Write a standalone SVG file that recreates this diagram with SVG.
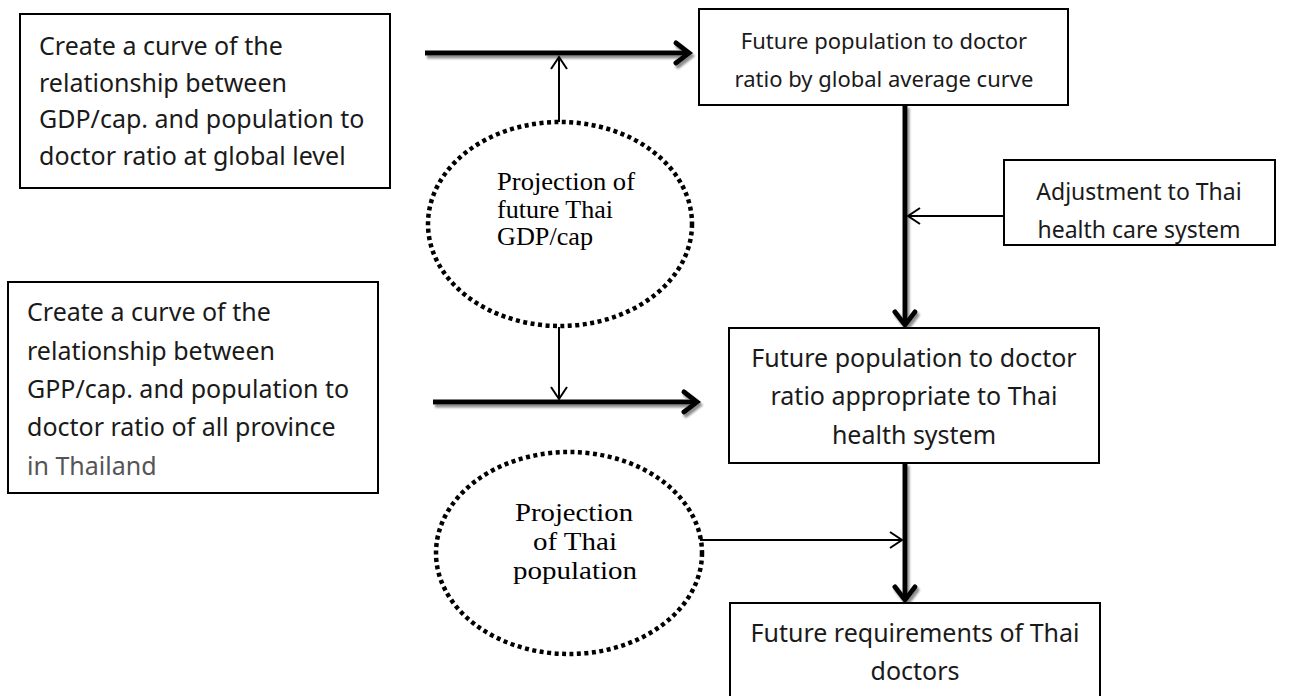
<svg xmlns="http://www.w3.org/2000/svg" width="1295" height="696" viewBox="0 0 1295 696">
  <style>
    .box { fill: #ffffff; stroke: #000000; stroke-width: 2; }
    .lbl { font-family: "Noto Sans", "Open Sans", sans-serif; font-size: 25px; fill: #1a1a1a; }
    .sm { font-size: 22px; }
    .md { font-size: 23px; }
    .mid { text-anchor: middle; }
    .oval { fill: none; stroke: #000000; stroke-width: 4.5; stroke-dasharray: 4 3.5; }
    .ser { font-family: "Liberation Serif", "Times New Roman", serif; font-size: 25px; fill: #000000; }
    .thick { fill: none; stroke: #000000; stroke-width: 5; }
    .thin { fill: none; stroke: #000000; stroke-width: 2; }
  </style>
  <defs>
    <filter id="shade" x="-10%" y="-50%" width="120%" height="200%">
      <feDropShadow dx="2" dy="3" stdDeviation="0.8" flood-color="#808080" flood-opacity="0.9"/>
    </filter>
    <marker id="headThick" markerUnits="userSpaceOnUse" markerWidth="40" markerHeight="40" refX="0" refY="0" viewBox="-20 -20 40 40" orient="auto" overflow="visible">
      <path d="M -13 -10 L 0 0 L -13 10" fill="none" stroke="#000000" stroke-width="5" stroke-linecap="round" stroke-linejoin="miter"/>
    </marker>
    <marker id="headThin" markerUnits="userSpaceOnUse" markerWidth="40" markerHeight="40" refX="0" refY="0" viewBox="-20 -20 40 40" orient="auto" overflow="visible">
      <path d="M -12 -8 L 0 0 L -12 8" fill="none" stroke="#000000" stroke-width="2"/>
    </marker>
  </defs>

  <rect width="1295" height="696" fill="#ffffff"/>

  <!-- connectors -->
  <g id="connectors">
    <g filter="url(#shade)">
      <line class="thick" x1="425" y1="53" x2="689" y2="53" marker-end="url(#headThick)"/>
      <line class="thick" x1="433" y1="402" x2="697" y2="402" marker-end="url(#headThick)"/>
      <line class="thick" x1="905" y1="105" x2="905" y2="325" marker-end="url(#headThick)"/>
      <line class="thick" x1="905" y1="463" x2="905" y2="600" marker-end="url(#headThick)"/>
    </g>
    <line class="thin" x1="559" y1="122" x2="559" y2="57" marker-end="url(#headThin)"/>
    <line class="thin" x1="559" y1="327" x2="559" y2="399" marker-end="url(#headThin)"/>
    <line class="thin" x1="1003" y1="216" x2="908" y2="216" marker-end="url(#headThin)"/>
    <line class="thin" x1="700" y1="540" x2="902" y2="540" marker-end="url(#headThin)"/>
  </g>

  <!-- global curve box -->
  <g id="global-curve">
    <rect class="box" x="20" y="14" width="370" height="174"/>
    <text class="lbl" x="39" y="55">Create a curve of the</text>
    <text class="lbl" x="39" y="92">relationship between</text>
    <text class="lbl" x="39" y="128">GDP/cap. and population to</text>
    <text class="lbl" x="39" y="165">doctor ratio at global level</text>
  </g>

  <!-- provincial curve box -->
  <g id="province-curve">
    <rect class="box" x="8" y="282" width="370" height="211"/>
    <text class="lbl" x="27" y="321">Create a curve of the</text>
    <text class="lbl" x="27" y="360">relationship between</text>
    <text class="lbl" x="27" y="398">GPP/cap. and population to</text>
    <text class="lbl" x="27" y="436">doctor ratio of all province</text>
    <text class="lbl" x="27" y="475" style="fill:#555555">in Thailand</text>
  </g>

  <!-- GDP projection -->
  <g id="gdp-projection">
    <ellipse class="oval" cx="560" cy="224" rx="132" ry="102"/>
    <text class="ser" x="497" y="190" textLength="138" lengthAdjust="spacingAndGlyphs">Projection of</text>
    <text class="ser" x="497" y="218" textLength="116" lengthAdjust="spacingAndGlyphs">future Thai</text>
    <text class="ser" x="497" y="245" textLength="96" lengthAdjust="spacingAndGlyphs">GDP/cap</text>
  </g>

  <!-- population projection -->
  <g id="pop-projection">
    <ellipse class="oval" cx="569" cy="553" rx="133" ry="101"/>
    <text class="ser" x="515" y="521" textLength="118" lengthAdjust="spacingAndGlyphs">Projection</text>
    <text class="ser" x="533" y="550" textLength="84" lengthAdjust="spacingAndGlyphs">of Thai</text>
    <text class="ser" x="513" y="579" textLength="124" lengthAdjust="spacingAndGlyphs">population</text>
  </g>

  <!-- ratio by global curve -->
  <g id="global-ratio">
    <rect class="box" x="699" y="9" width="369" height="96"/>
    <text class="lbl sm mid" x="884" y="49">Future population to doctor</text>
    <text class="lbl sm mid" x="884" y="87">ratio by global average curve</text>
  </g>

  <!-- adjustment -->
  <g id="adjustment">
    <rect class="box" x="1004" y="160" width="271" height="85"/>
    <text class="lbl md mid" x="1139" y="200">Adjustment to Thai</text>
    <text class="lbl md mid" x="1139" y="238">health care system</text>
  </g>

  <!-- ratio for Thai system -->
  <g id="thai-ratio">
    <rect class="box" x="729" y="328" width="370" height="135"/>
    <text class="lbl mid" x="914" y="367">Future population to doctor</text>
    <text class="lbl mid" x="914" y="405">ratio appropriate to Thai</text>
    <text class="lbl mid" x="914" y="444">health system</text>
  </g>

  <!-- requirements -->
  <g id="requirements">
    <rect class="box" x="730" y="603" width="370" height="100"/>
    <text class="lbl mid" x="915" y="642">Future requirements of Thai</text>
    <text class="lbl mid" x="915" y="680">doctors</text>
  </g>
</svg>
